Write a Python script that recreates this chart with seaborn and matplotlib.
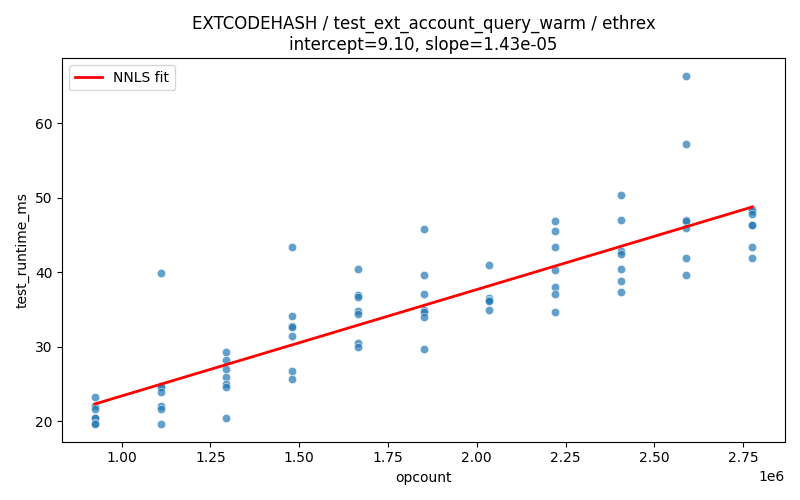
import matplotlib
matplotlib.use("Agg")
import matplotlib.pyplot as plt
import seaborn as sns
import numpy as np
import pandas as pd

opcounts = [925000, 1110000, 1295000, 1480000, 1665000, 1850000,
            2035000, 2220000, 2405000, 2590000, 2775000]
runtimes = [
    [23.2, 22.1, 21.6, 20.5, 20.4, 19.8, 19.7],
    [39.9, 24.8, 24.6, 23.9, 22.1, 21.6, 19.6],
    [29.25, 28.2, 27.0, 26.0, 25.0, 24.6, 20.4],
    [43.4, 34.2, 32.8, 32.6, 31.4, 26.7, 25.7],
    [40.4, 36.9, 36.7, 34.8, 34.4, 30.5, 30.0],
    [45.8, 39.7, 37.1, 35.0, 34.7, 34.0, 29.65],
    [41.0, 36.6, 36.3, 36.1, 35.0],
    [46.9, 45.6, 43.4, 40.3, 38.1, 37.1, 34.7],
    [50.4, 47.0, 42.9, 42.5, 40.4, 38.8, 37.4],
    [66.4, 57.3, 47.0, 46.9, 45.95, 41.9, 39.6],
    [48.55, 48.3, 47.8, 46.4, 46.3, 43.4, 41.9],
]
intercept = 9.10
slope = 1.43e-05

xs, ys = [], []
for x, vals in zip(opcounts, runtimes):
    for v in vals:
        xs.append(x)
        ys.append(v)
df = pd.DataFrame({"opcount": xs, "test_runtime_ms": ys})

fig, ax = plt.subplots(figsize=(8, 5), dpi=100)
sns.scatterplot(data=df, x="opcount", y="test_runtime_ms", alpha=0.7, ax=ax)
xl = np.array([min(opcounts), max(opcounts)])
ax.plot(xl, intercept + slope * xl, color="red", linewidth=2, label="NNLS fit")
ax.legend(loc="upper left")
ax.set_title("EXTCODEHASH / test_ext_account_query_warm / ethrex\n"
             f"intercept={intercept:.2f}, slope={slope:.2e}")
ax.set_xlabel("opcount")
ax.set_ylabel("test_runtime_ms")
fig.tight_layout()
fig.savefig("out.png")
